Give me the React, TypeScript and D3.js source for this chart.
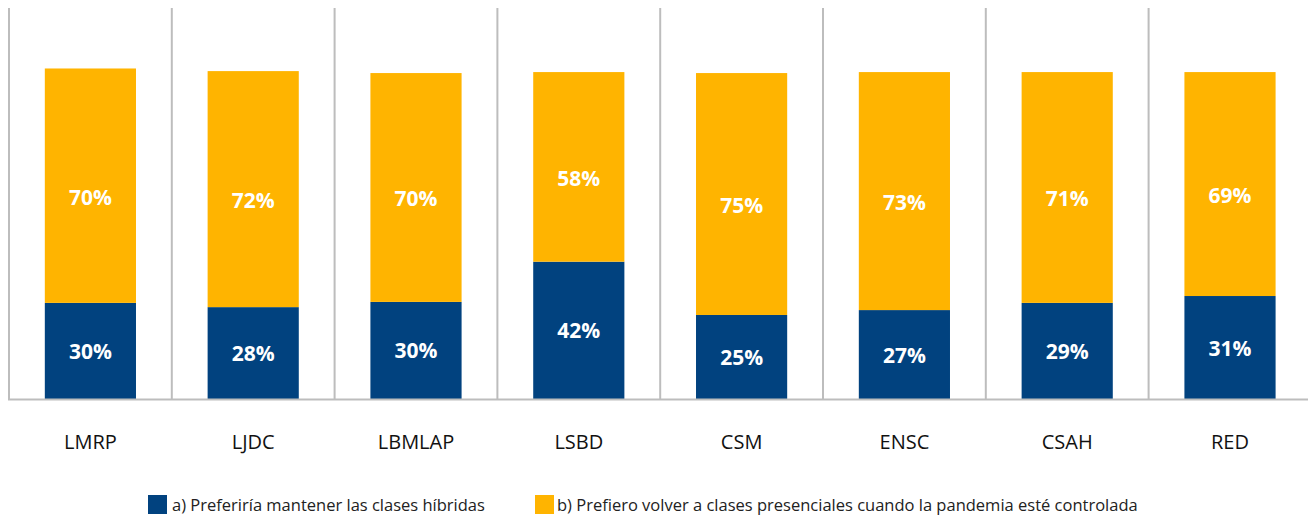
import React from "react";
import * as d3 from "d3";

const categories = ["LMRP", "LJDC", "LBMLAP", "LSBD", "CSM", "ENSC", "CSAH", "RED"];
const hybridValues = [29.4, 28.1, 29.7, 42.0, 25.7, 27.2, 29.4, 31.5];
const presencialValues = [71.7, 72.2, 70.0, 58.0, 74.0, 72.8, 70.6, 68.5];
const hybridLabels = ["30%", "28%", "30%", "42%", "25%", "27%", "29%", "31%"];
const presencialLabels = ["70%", "72%", "70%", "58%", "75%", "73%", "71%", "69%"];
const legendLabels = [
  "a) Preferiría mantener las clases híbridas",
  "b) Prefiero volver a clases presenciales cuando la pandemia esté controlada",
];

const BLUE = "#01427F";
const YELLOW = "#FFB400";
const GRID = "#BDBDBD";
const FONT = "'Open Sans', 'Noto Sans', sans-serif";

export default function App() {
  const width = 1308;
  const height = 515;
  const left = 9;
  const step = 162.8;
  const right = left + step * categories.length;
  const baseY = 399;
  const topY = 8;

  const x = d3
    .scaleBand<string>()
    .domain(categories)
    .range([left, right])
    .paddingInner(0.44)
    .paddingOuter(0.22);
  const y = d3.scaleLinear().domain([0, 119.6]).range([baseY, topY]);
  const bw = x.bandwidth();
  const gap = (x.step() - bw) / 2;

  const gridXs = categories.map((c) => (x(c) as number) - gap).concat([right]);

  const legendItems = [
    { color: BLUE, label: legendLabels[0], sx: 148, tx: 172 },
    { color: YELLOW, label: legendLabels[1], sx: 535, tx: 557 },
  ];

  return (
    <svg
      width={width}
      height={height}
      style={{ position: "absolute", left: 0, top: 0, background: "#fff" }}
    >
      {gridXs.map((gx, i) => (
        <line key={"g" + i} x1={gx} x2={gx} y1={topY} y2={baseY} stroke={GRID} strokeWidth={2} />
      ))}
      {categories.map((c, i) => {
        const bx = x(c) as number;
        const b = hybridValues[i];
        const p = presencialValues[i];
        const yb = y(b);
        const yp = y(b + p);
        return (
          <g key={c}>
            <rect x={bx} y={yb} width={bw} height={baseY - yb} fill={BLUE} />
            <rect x={bx} y={yp} width={bw} height={yb - yp} fill={YELLOW} />
            <text
              x={bx + bw / 2}
              y={(yb + baseY) / 2}
              textAnchor="middle"
              dominantBaseline="central"
              fill="#fff"
              fontFamily={FONT}
              fontWeight={700}
              fontSize={21}
            >
              {hybridLabels[i]}
            </text>
            <text
              x={bx + bw / 2}
              y={(yp + yb) / 2 + 11}
              textAnchor="middle"
              dominantBaseline="central"
              fill="#fff"
              fontFamily={FONT}
              fontWeight={700}
              fontSize={21}
            >
              {presencialLabels[i]}
            </text>
            <text
              x={bx + bw / 2}
              y={441}
              textAnchor="middle"
              dominantBaseline="central"
              fill="#111"
              fontFamily={FONT}
              fontSize={20}
            >
              {c}
            </text>
          </g>
        );
      })}
      <line x1={8} x2={width} y1={baseY + 0.5} y2={baseY + 0.5} stroke={GRID} strokeWidth={2} />
      {legendItems.map((it, i) => (
        <g key={"l" + i}>
          <rect x={it.sx} y={495} width={19} height={19} fill={it.color} />
          <text
            x={it.tx}
            y={504}
            dominantBaseline="central"
            fill="#222"
            fontFamily={FONT}
            fontSize={16.5}
          >
            {it.label}
          </text>
        </g>
      ))}
    </svg>
  );
}
